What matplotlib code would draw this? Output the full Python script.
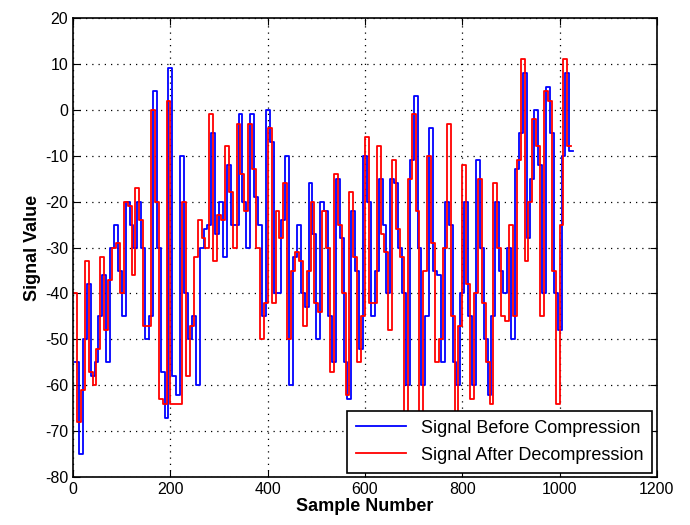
import numpy as np
import matplotlib
matplotlib.use("Agg")
import matplotlib.pyplot as plt

plt.rcParams['font.family'] = ['Liberation Sans', 'DejaVu Sans']
plt.rcParams['axes.unicode_minus'] = False

# red: decompressed signal, one value per 8-sample block starting at sample 0
red_vals = [-40, -68, -61, -33, -57, -60, -52, -32, -48, -37, -30, -29, -40, -20, -21, -36,
            -17, -24, -47, -47, 0, -20, -63, -64, 2, -64, -64, -64, -20, -58, -47, -32,
            -24, -28, -30, -1, -33, -23, -24, -8, -18, -30, -3, -14, -22, -3, -13, -30,
            -50, -42, -4, -42, -22, -28, -16, -50, -35, -31, -33, -47, -35, -20, -42, -44,
            -22, -30, -57, -14, -25, -40, -62, -18, -32, -55, -45, -6, -42, -42, -8, -27,
            -31, -48, -11, -26, -32, -66, -15, -1, -22, -66, -35, -10, -29, -55, -50, -30,
            -3, -45, -66, -47, -12, -38, -63, -40, -15, -42, -55, -64, -16, -30, -45, -46,
            -25, -45, -11, 11, -33, -20, -2, -8, -45, 4, 2, -35, -64, -25, 11, -8]

# blue: original signal, one value per 8-sample block starting at sample 4
blue_vals = [-55, -75, -50, -38, -58, -55, -45, -36, -55, -30, -25, -35, -45, -20, -25, -30,
             -20, -30, -50, -45, 4, -30, -57, -67, 9, -58, -62, -10, -40, -50, -45, -60,
             -30, -26, -25, -5, -27, -20, -32, -12, -25, -25, -1, -20, -30, -1, -19, -25,
             -45, 0, -7, -40, -40, -24, -10, -60, -32, -25, -40, -43, -16, -27, -50, -20,
             -22, -45, -55, -15, -28, -55, -63, -22, -35, -52, -10, -20, -45, -35, -15, -25,
             -40, -15, -16, -30, -40, -60, -11, 3, -30, -60, -45, -4, -35, -36, -55, -20,
             -25, -55, -60, -40, -20, -45, -60, -11, -30, -50, -62, -45, -20, -35, -40, -30,
             -50, -13, -5, 8, -28, -15, 0, -12, -40, 5, -5, -40, -48, -10, 8, -9]

block = 8
red_x = np.arange(len(red_vals) + 1) * block
red_y = red_vals + [red_vals[-1]]
blue_x = np.arange(len(blue_vals) + 1) * block + 4
blue_y = blue_vals + [blue_vals[-1]]

fig = plt.figure(figsize=(6.9, 5.25), dpi=100)
ax = fig.add_axes([0.106, 0.091, 0.846, 0.875])

ax.step(blue_x, blue_y, where='post', color='#0000ff', lw=1.3, label='Signal Before Compression')
ax.step(red_x, red_y, where='post', color='#ff0000', lw=1.3, label='Signal After Decompression')

ax.set_xlim(0, 1200)
ax.set_ylim(-80, 20)
ax.set_xticks(range(0, 1201, 200))
ax.set_yticks(range(-80, 21, 10))
ax.grid(True, color='black', linestyle=(0, (1, 4)), lw=0.9)
ax.tick_params(direction='in', length=5, labelsize=11.5, top=True, right=True)
for s in ax.spines.values():
    s.set_linewidth(1.2)

ax.set_xlabel('Sample Number', fontsize=13, fontweight='bold', labelpad=1)
ax.set_ylabel('Signal Value', fontsize=13, fontweight='bold', labelpad=3)

leg = ax.legend(loc='lower right', fontsize=13, fancybox=False, framealpha=1,
                edgecolor='black', borderaxespad=0.25, handlelength=2.8,
                borderpad=0.5, labelspacing=0.55)
leg.get_frame().set_linewidth(1.2)

fig.savefig('out.png', dpi=100)
